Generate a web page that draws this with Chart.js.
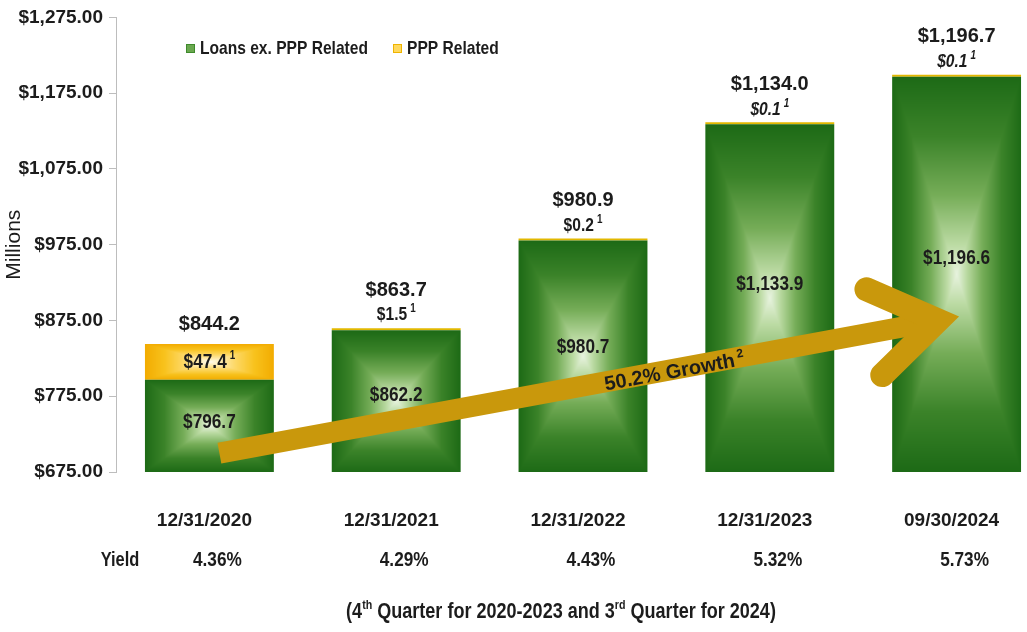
<!DOCTYPE html>
<html>
<head>
<meta charset="utf-8">
<script src="https://cdn.jsdelivr.net/npm/chart.js@4.4.1/dist/chart.umd.min.js"></script>
<style>
  html, body { margin: 0; padding: 0; background: #fff; overflow: hidden; }
  #caixa { width: 1050px; height: 632px; position: relative; }
</style>
</head>
<body>
<div id="caixa"><canvas id="grafico"></canvas></div>
<script>
// dados
const datas = ['12/31/2020', '12/31/2021', '12/31/2022', '12/31/2023', '09/30/2024'];
const emprestimos = [796.7, 862.2, 980.7, 1133.9, 1196.6];
const ppp = [47.4, 1.5, 0.2, 0.1, 0.1];
const totais = [844.2, 863.7, 980.9, 1134.0, 1196.7];
const rendimentos = ['4.36%', '4.29%', '4.43%', '5.32%', '5.73%'];
const ticksY = [675, 775, 875, 975, 1075, 1175, 1275];
const crescimento = '50.2% Growth';

const SANS = '"Liberation Sans", Arial, sans-serif';
const TEXTO = '#1c1c1c';
const LARG_BARRA = 0.69;
const ESTREITO = 0.82; // simula a fonte "narrow"

const coresVerde = [[0, '#1d6a16'], [0.3, '#3b8329'], [0.6, '#76ad58'], [0.85, '#bcdba4'], [1, '#e8f3df']];
const coresAmarelo = [[0, '#f2ab00'], [0.3, '#f8c21c'], [0.6, '#fdd866'], [0.85, '#ffeeb8'], [1, '#fffcef']];

const rgb = h => [1, 3, 5].map(k => parseInt(h.slice(k, k + 2), 16));

// degrade retangular a partir do centro (claro no meio, escuro nas bordas)
function piramide(w, h, paradas) {
  const W = Math.max(1, Math.round(w)), H = Math.max(1, Math.round(h));
  const cv = document.createElement('canvas');
  cv.width = W; cv.height = H;
  const g = cv.getContext('2d');
  const img = g.createImageData(W, H);
  const pc = paradas.map(p => [p[0], rgb(p[1])]);
  const cx = W / 2, cy = H / 2;
  for (let y = 0; y < H; y++) {
    for (let x = 0; x < W; x++) {
      const d = Math.max(Math.abs(x + 0.5 - cx) / cx, Math.abs(y + 0.5 - cy) / cy);
      const t = Math.min(1, Math.max(0, 1 - d));
      let k = 0;
      while (k < pc.length - 2 && t > pc[k + 1][0]) k++;
      const f = (t - pc[k][0]) / (pc[k + 1][0] - pc[k][0]);
      const o = (y * W + x) * 4;
      for (let j = 0; j < 3; j++) img.data[o + j] = pc[k][1][j] + (pc[k + 1][1][j] - pc[k][1][j]) * f;
      img.data[o + 3] = 255;
    }
  }
  g.putImageData(img, 0, 0);
  return cv;
}

function preenchimento(ctx, cores, solida) {
  const chart = ctx.chart;
  const xs = chart.scales.x, ys = chart.scales.y;
  if (!xs || !ys || ctx.type !== 'data') return solida;
  const i = ctx.dataIndex;
  const base = ctx.datasetIndex === 0 ? ys.min : emprestimos[i];
  const topo = ctx.datasetIndex === 0 ? emprestimos[i] : emprestimos[i] + ppp[i];
  const yTopo = ys.getPixelForValue(topo);
  const h = ys.getPixelForValue(base) - yTopo;
  const w = (xs.getPixelForValue(1) - xs.getPixelForValue(0)) * LARG_BARRA;
  if (!isFinite(h) || !isFinite(w) || h < 6 || w < 6) return solida;
  const esq = xs.getPixelForValue(i) - w / 2;
  const pat = chart.ctx.createPattern(piramide(w, h, cores), 'repeat');
  pat.setTransform(new DOMMatrix([1, 0, 0, 1, esq, yTopo]));
  return pat;
}

const dinheiro = v => '$' + v.toLocaleString('en-US', { minimumFractionDigits: 1, maximumFractionDigits: 1 });

// escreve texto estreito (escala horizontal)
function escreve(c, txt, x, y, fonte, k) {
  c.save();
  c.font = fonte;
  c.translate(x, y);
  c.scale(k, 1);
  c.fillText(txt, 0, 0);
  c.restore();
}

// texto centralizado com expoente pequeno depois
function textoSup(c, txt, sup, x, y, fonte, fonteSup, k) {
  c.font = fonte;
  const w1 = c.measureText(txt).width * k;
  c.font = fonteSup;
  const w2 = c.measureText(sup).width * k;
  const ini = x - (w1 + 3 + w2) / 2;
  c.textAlign = 'left';
  escreve(c, txt, ini, y, fonte, k);
  escreve(c, sup, ini + w1 + 3, y - 6, fonteSup, k);
}

const italicos = [3, 4];

const extras = {
  id: 'extras',
  afterDatasetsDraw(chart) {
    const c = chart.ctx;
    const xs = chart.scales.x, ys = chart.scales.y;
    const m0 = chart.getDatasetMeta(0), m1 = chart.getDatasetMeta(1);

    // seta de crescimento
    const x0 = xs.getPixelForValue(0) + 10, y0 = ys.getPixelForValue(700);
    const x1 = xs.getPixelForValue(4) + 2, y1 = ys.getPixelForValue(880);
    const ang = Math.atan2(y1 - y0, x1 - x0);
    const dx = Math.cos(ang), dy = Math.sin(ang);
    const pX = x1 - dx * 21, pY = y1 - dy * 21;
    c.save();
    c.strokeStyle = '#c9980c';
    c.lineWidth = 21;
    c.lineCap = 'butt';
    c.beginPath(); c.moveTo(x0, y0); c.lineTo(pX, pY); c.stroke();
    const L = 78, a = 34 * Math.PI / 180;
    c.lineWidth = 24;
    c.lineCap = 'round';
    c.lineJoin = 'miter';
    c.beginPath();
    c.moveTo(pX + L * Math.cos(ang + Math.PI - a), pY + L * Math.sin(ang + Math.PI - a));
    c.lineTo(pX, pY);
    c.lineTo(pX + L * Math.cos(ang + Math.PI + a), pY + L * Math.sin(ang + Math.PI + a));
    c.stroke();
    // texto na seta
    const t = 0.615;
    c.translate(x0 + (x1 - x0) * t, y0 + (y1 - y0) * t);
    c.rotate(ang);
    c.fillStyle = TEXTO;
    c.textBaseline = 'middle';
    textoSup(c, crescimento, '2', 0, 3, 'bold 20px ' + SANS, 'bold 12px ' + SANS, 1);
    c.restore();

    // rotulos das barras
    c.save();
    c.fillStyle = TEXTO;
    c.textBaseline = 'middle';
    m0.data.forEach((barra, i) => {
      c.textAlign = 'center';
      const fundo = Math.min(barra.base, ys.bottom);
      escreve(c, dinheiro(emprestimos[i]), barra.x, barra.y + (fundo - barra.y) * 0.46, 'bold 21px ' + SANS, ESTREITO);

      const seg = m1.data[i];
      const alt = seg.base - seg.y;
      const estilo = italicos.includes(i) ? 'italic bold ' : 'bold ';
      let yTotal;
      if (alt > 20) {
        textoSup(c, dinheiro(ppp[i]), '1', seg.x, seg.y + alt / 2, estilo + '21px ' + SANS, 'bold 12px ' + SANS, ESTREITO);
        yTotal = seg.y - 19;
      } else {
        textoSup(c, dinheiro(ppp[i]), '1', seg.x, seg.y - 13, estilo + '19px ' + SANS, estilo + '12px ' + SANS, ESTREITO);
        yTotal = seg.y - 38;
      }
      c.textAlign = 'center';
      c.font = 'bold 20px ' + SANS;
      c.fillText(dinheiro(totais[i]), seg.x, yTotal);
    });
    c.restore();
  },
  afterDraw(chart) {
    const c = chart.ctx;
    const xs = chart.scales.x;
    c.save();
    c.fillStyle = TEXTO;
    c.textBaseline = 'middle';

    // legenda
    const legenda = [
      { txt: chart.data.datasets[0].label, x: 186, fundo: '#6aa84f', borda: '#3f8a2c' },
      { txt: chart.data.datasets[1].label, x: 393, fundo: '#ffd95e', borda: '#efb400' }
    ];
    legenda.forEach(l => {
      c.fillStyle = l.fundo;
      c.fillRect(l.x, 44, 9, 9);
      c.strokeStyle = l.borda;
      c.lineWidth = 1;
      c.strokeRect(l.x + 0.5, 44.5, 8, 8);
      c.fillStyle = TEXTO;
      c.textAlign = 'left';
      escreve(c, l.txt, l.x + 14, 49, 'bold 19px ' + SANS, ESTREITO);
    });

    // linha de rendimento
    c.textAlign = 'center';
    escreve(c, 'Yield', 120, 560, 'bold 20px ' + SANS, ESTREITO);
    rendimentos.forEach((r, i) => {
      escreve(c, r, xs.getPixelForValue(i) + 8, 560, 'bold 21px ' + SANS, ESTREITO);
    });

    // nota de rodape
    const partes = [['(4', 0], ['th', 1], [' Quarter for 2020-2023 and 3', 0], ['rd', 1], [' Quarter for 2024)', 0]];
    const fN = 'bold 22px ' + SANS, fS = 'bold 13px ' + SANS;
    let larg = 0;
    partes.forEach(p => { c.font = p[1] ? fS : fN; larg += c.measureText(p[0]).width * ESTREITO; });
    let px = 561 - larg / 2;
    c.textAlign = 'left';
    partes.forEach(p => {
      const f = p[1] ? fS : fN;
      escreve(c, p[0], px, p[1] ? 605 : 612, f, ESTREITO);
      c.font = f;
      px += c.measureText(p[0]).width * ESTREITO;
    });
    c.restore();
  }
};

const grafico = new Chart(document.getElementById('grafico'), {
  type: 'bar',
  data: {
    labels: datas,
    datasets: [
      {
        label: 'Loans ex. PPP Related',
        data: emprestimos,
        backgroundColor: ctx => preenchimento(ctx, coresVerde, '#3f852d'),
        categoryPercentage: 1,
        barPercentage: LARG_BARRA
      },
      {
        label: 'PPP Related',
        data: ppp,
        backgroundColor: ctx => preenchimento(ctx, coresAmarelo, '#e2b800'),
        categoryPercentage: 1,
        barPercentage: LARG_BARRA,
        minBarLength: 2
      }
    ]
  },
  options: {
    responsive: true,
    maintainAspectRatio: false,
    animation: false,
    layout: { padding: { top: 15, left: 0, right: 0, bottom: 0 } },
    plugins: {
      legend: { display: false },
      tooltip: { enabled: false }
    },
    scales: {
      x: {
        stacked: true,
        grid: { display: false, drawTicks: false },
        border: { display: false },
        ticks: {
          color: TEXTO,
          font: { family: SANS, size: 19, weight: 'bold' },
          padding: 37,
          labelOffset: -5
        },
        afterFit: s => { s.height = 160; }
      },
      y: {
        stacked: true,
        min: 675,
        max: 1275,
        afterBuildTicks: s => { s.ticks = ticksY.map(v => ({ value: v })); },
        grid: { drawOnChartArea: false, drawTicks: true, tickLength: 7, color: '#bdbdbd' },
        border: { display: true, color: '#bdbdbd' },
        ticks: {
          color: TEXTO,
          padding: 6,
          font: { family: SANS, size: 19, weight: 'bold' },
          callback: v => '$' + v.toLocaleString('en-US', { minimumFractionDigits: 2, maximumFractionDigits: 2 })
        },
        title: {
          display: true,
          text: 'Millions',
          color: TEXTO,
          padding: { top: 2, bottom: 0 },
          font: { family: SANS, size: 21 }
        },
        afterFit: s => { s.width = 116; }
      }
    }
  },
  plugins: [extras]
});
</script>
</body>
</html>
